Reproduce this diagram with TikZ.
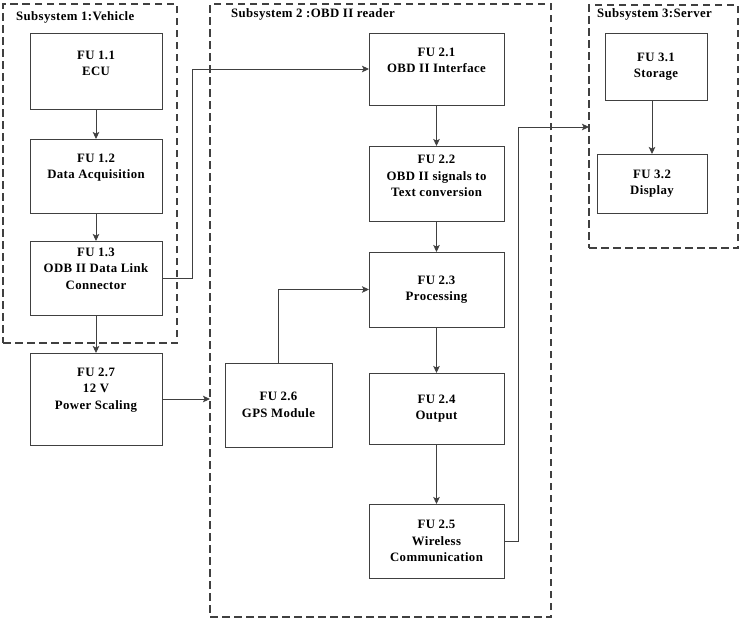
\documentclass[tikz,border=0pt]{standalone}
\usepackage{fontspec}
\setmainfont{Liberation Serif}[LetterSpace=3]
\usetikzlibrary{arrows.meta}
\definecolor{ln}{HTML}{404040}
\begin{document}
\begin{tikzpicture}[x=1pt,y=-1pt,
  fu/.style={draw=ln, line width=0.9pt, anchor=north west, inner sep=0pt, outer sep=0pt},
  lbl/.style={align=center, font=\fontsize{12.8}{16.5}\selectfont\bfseries, inner sep=0pt},
  frame/.style={draw=ln, line width=1.8pt, dash pattern=on 7.5pt off 4.5pt, anchor=north west, inner sep=0pt, outer sep=0pt},
  arr/.style={draw=ln, line width=0.9pt, -{Stealth[length=7pt,width=6.5pt,inset=1.5pt]}},
  ttl/.style={anchor=west, font=\fontsize{12.8}{14}\selectfont\bfseries, inner sep=0pt}]
\useasboundingbox (0,0) rectangle (743,622);

% subsystem frames
\node[frame, minimum width=174pt, minimum height=339pt] (sub1) at (3,4) {};
\node[frame, minimum width=341pt, minimum height=613pt] (sub2) at (210,4) {};
\node[frame, minimum width=149pt, minimum height=243pt] (sub3) at (589,5) {};
\node[ttl] (t1) at (16,17) {Subsystem 1:Vehicle};
\node[ttl] (t2) at (231,14) {Subsystem 2 :OBD II reader};
\node[ttl] (t3) at (597,14) {Subsystem 3:Server};

% boxes
\node[fu, minimum width=132pt, minimum height=76pt] (fu11) at (30,33) {};
\node[fu, minimum width=132pt, minimum height=74pt] (fu12) at (30,139) {};
\node[fu, minimum width=132pt, minimum height=74pt] (fu13) at (30,241) {};
\node[fu, minimum width=132pt, minimum height=92pt] (fu27) at (30,353) {};
\node[fu, minimum width=135pt, minimum height=72pt] (fu21) at (369,33) {};
\node[fu, minimum width=135pt, minimum height=75pt] (fu22) at (369,146) {};
\node[fu, minimum width=135pt, minimum height=75pt] (fu23) at (369,252) {};
\node[fu, minimum width=135pt, minimum height=71pt] (fu24) at (369,373) {};
\node[fu, minimum width=135pt, minimum height=74pt] (fu25) at (369,504) {};
\node[fu, minimum width=107pt, minimum height=84pt] (fu26) at (225,363) {};
\node[fu, minimum width=102pt, minimum height=67pt] (fu31) at (605,33) {};
\node[fu, minimum width=110pt, minimum height=59pt] (fu32) at (597,154) {};

% labels
\node[lbl] (l11) at ([yshift=7.5pt]fu11.center) {FU 1.1\\ECU};
\node[lbl] (l12) at ([yshift=8.5pt]fu12.center) {FU 1.2\\Data Acquisition};
\node[lbl] (l13) at ([yshift=9.5pt]fu13.center) {FU 1.3\\ODB II Data Link\\Connector};
\node[lbl] (l27) at ([yshift=9pt]fu27.center) {FU 2.7\\12 V\\Power Scaling};
\node[lbl] (l21) at ([yshift=8.5pt]fu21.center) {FU 2.1\\OBD II Interface};
\node[lbl] (l22) at ([yshift=7.5pt]fu22.center) {FU 2.2\\OBD II signals to\\Text conversion};
\node[lbl] (l23) at (fu23.center) {FU 2.3\\Processing};
\node[lbl] (l24) at (fu24.center) {FU 2.4\\Output};
\node[lbl] (l25) at (fu25.center) {FU 2.5\\Wireless\\Communication};
\node[lbl] (l26) at (fu26.center) {FU 2.6\\GPS Module};
\node[lbl] (l31) at (fu31.center) {FU 3.1\\Storage};
\node[lbl] (l32) at (fu32.center) {FU 3.2\\Display};

\coordinate (s3in) at (589,127);

% connectors
\draw[arr] (fu11.south) -- (fu12.north);
\draw[arr] (fu12.south) -- (fu13.north);
\draw[arr] (fu13.south) -- (fu27.north);
\draw[arr] (fu13.east) -- ++(30,0) |- (fu21.west);
\draw[arr] (fu27.east) -- (fu27.east -| sub2.west);
\draw[arr] (fu21.south) -- (fu22.north);
\draw[arr] (fu22.south) -- (fu23.north);
\draw[arr] (fu23.south) -- (fu24.north);
\draw[arr] (fu24.south) -- (fu25.north);
\draw[arr] (fu26.north) |- (fu23.west);
\draw[arr] (fu25.east) -- ++(14,0) |- (s3in);
\draw[arr] (fu32.north |- fu31.south) -- (fu32.north);
\end{tikzpicture}
\end{document}
